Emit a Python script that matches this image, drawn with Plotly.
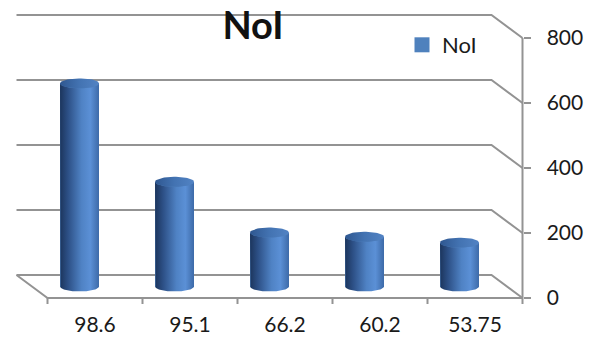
import numpy as np
import plotly.graph_objects as go

# ---- data ----
categories = ["98.6", "95.1", "66.2", "60.2", "53.75"]
values = [625, 322, 166, 153, 135]
y_ticks = [0, 200, 400, 600, 800]
series_name = "NoI"

# ---- geometry (pixel mapping helpers) ----
W, H = 592, 344
UX = 95.0          # px per category unit
UY = 0.325         # px per value unit
FRONT0_PX = 298    # pixel row of value 0 on front plane
X0 = -1.0          # data x at pixel 0
xr = [X0, X0 + W / UX]
yr = [(FRONT0_PX - H) / UY, FRONT0_PX / UY]

dxb, dyb = -31 / UX, 23 / UY      # back-wall offset
dxm, dym = dxb / 2, dyb / 2       # mid-depth offset (bars)
n = len(categories)
xl, xrt = -0.5, n - 0.5

FONT = "Lato"
GRID = "#939393"
BLUE = "#4f81bd"

fig = go.Figure()

# real bar trace (data), covered by cylinder shading below
fig.add_trace(go.Bar(
    x=[i + dxm for i in range(n)], y=values, base=dym, width=0.41,
    marker=dict(color=BLUE, line=dict(width=0)), name=series_name,
    showlegend=False, hoverinfo="skip"))

a = 0.205
b = 5.0 / UY
for i, v in enumerate(values):
    c = i + dxm
    t1 = np.linspace(np.pi, 2 * np.pi, 40)
    t2 = np.linspace(2 * np.pi, np.pi, 40)
    bx = np.concatenate([[c - a], c + a * np.cos(t1), [c + a], c + a * np.cos(t2)])
    by = np.concatenate([[dym + v], dym + b * np.sin(t1), [dym + v], dym + v + b * np.sin(t2)])
    fig.add_trace(go.Scatter(
        x=bx, y=by, mode="lines", fill="toself", line=dict(width=0),
        fillgradient=dict(type="horizontal", colorscale=[
            [0, "#1c355c"], [0.2, "#2c4f85"], [0.55, "#4f82c4"],
            [0.78, "#5b90d6"], [1, "#3d6aa8"]]),
        showlegend=False, hoverinfo="skip"))
    t = np.linspace(0, 2 * np.pi, 60)
    fig.add_trace(go.Scatter(
        x=c + a * np.cos(t), y=dym + v + b * np.sin(t), mode="lines",
        fill="toself", line=dict(width=0),
        fillgradient=dict(type="horizontal", colorscale=[
            [0, "#2f5790"], [0.5, "#4373b2"], [1, "#5283c4"]]),
        showlegend=False, hoverinfo="skip"))

# legend entry
fig.add_trace(go.Scatter(
    x=[None], y=[None], mode="markers", name=series_name,
    marker=dict(symbol="square", size=15, color=BLUE), showlegend=True))

shapes = []
for v in y_ticks:
    shapes.append(dict(type="path",
                       path=f"M {xl+dxb},{v+dyb} L {xrt+dxb},{v+dyb} L {xrt},{v}",
                       line=dict(color=GRID, width=2), xref="x", yref="y", layer="below"))
# floor front edge and left edge
shapes.append(dict(type="path", path=f"M {xl+dxb},{dyb} L {xl},0 L {xrt},0",
                   line=dict(color=GRID, width=2), xref="x", yref="y", layer="below"))
# front value axis line
shapes.append(dict(type="line", x0=xrt, x1=xrt, y0=0, y1=y_ticks[-1],
                   line=dict(color=GRID, width=2), xref="x", yref="y", layer="below"))
# category boundary ticks
for k in range(n + 1):
    xb = -0.5 + k
    shapes.append(dict(type="line", x0=xb, x1=xb, y0=0, y1=-6 / UY,
                       line=dict(color=GRID, width=2), xref="x", yref="y"))

fig.update_layout(
    width=W, height=H, margin=dict(l=0, r=0, t=0, b=0),
    paper_bgcolor="white", plot_bgcolor="white",
    font=dict(family=FONT, color="#1a1a1a"),
    shapes=shapes,
    title=dict(text=f"<b>{series_name}</b>", x=253 / W, xanchor="center",
               y=1 - 26 / H, yanchor="middle",
               font=dict(family=FONT, size=38, color="#111111")),
    xaxis=dict(range=xr, tickvals=list(range(n)), ticktext=categories,
               anchor="free", position=(H - FRONT0_PX) / H,
               showgrid=False, zeroline=False, showline=False, ticks="",
               ticklabelstandoff=12, tickfont=dict(size=21, color="#1a1a1a")),
    yaxis=dict(range=yr, tickvals=y_ticks, side="right", anchor="free",
               position=(xrt - X0) * UX / W, showgrid=False, zeroline=False,
               showline=False, ticks="outside", ticklen=7, tickwidth=2,
               tickcolor=GRID, ticklabelstandoff=12,
               tickfont=dict(size=21, color="#1a1a1a")),
    legend=dict(x=402 / W, y=1 - 45 / H, xanchor="left", yanchor="middle",
                bgcolor="rgba(0,0,0,0)", font=dict(size=22, color="#1a1a1a")),
    bargap=0,
)

fig.write_html("out.html")
